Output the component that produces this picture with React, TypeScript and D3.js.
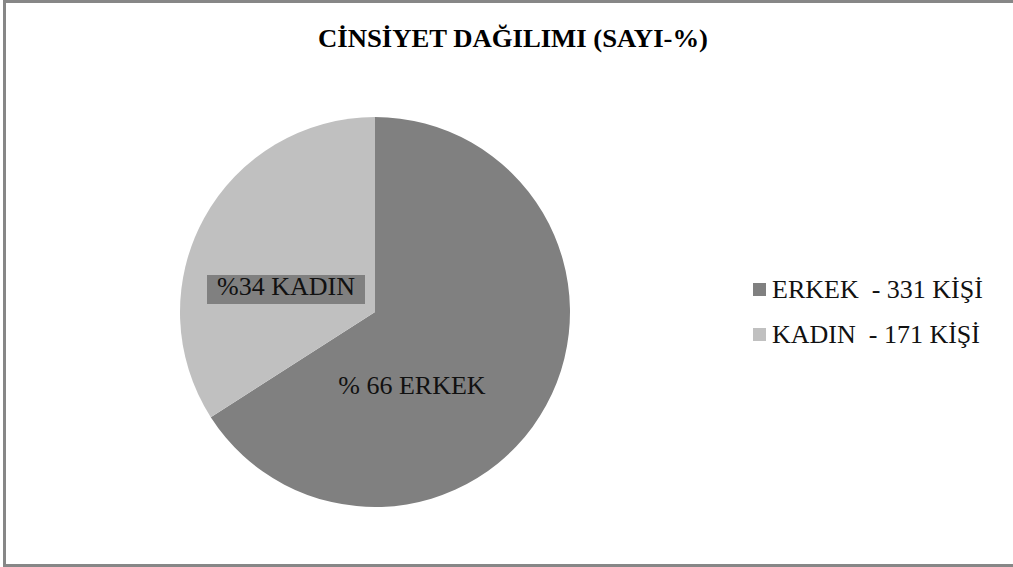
import React from "react";
import * as d3 from "d3";

const categories = ["ERKEK", "KADIN"];
const counts = [331, 171];
const colors = ["#808080", "#c0c0c0"];
const sliceLabels = ["% 66 ERKEK", "%34 KADIN"];
const legendLabels = ["ERKEK  - 331 KİŞİ", "KADIN  - 171 KİŞİ"];
const title = "CİNSİYET DAĞILIMI (SAYI-%)";

export default function App() {
  const W = 1013, H = 567;
  const cx = 375, cy = 312, r = 195;
  const pie = d3.pie<number>().sort(null).value((d) => d);
  const arcs = pie(counts);
  const arc = d3.arc<d3.PieArcDatum<number>>().innerRadius(0).outerRadius(r);
  const font = "'Liberation Serif', 'Times New Roman', serif";
  return (
    <svg width={W} height={H} style={{ position: "absolute", left: 0, top: 0, background: "#fff" }}>
      <rect x={4.5} y={1.5} width={W + 10} height={H - 3} fill="#fff" stroke="#878787" strokeWidth={3} />
      <text x={513} y={47} textAnchor="middle" fontFamily={font} fontWeight="bold" fontSize={26}
        textLength={390} lengthAdjust="spacingAndGlyphs">{title}</text>
      <g transform={`translate(${cx},${cy})`}>
        {arcs.map((a, i) => (
          <path key={categories[i]} d={arc(a) || ""} fill={colors[i]} />
        ))}
      </g>
      <rect x={207} y={275} width={158} height={29} fill="#808080" />
      <text x={286} y={295} textAnchor="middle" fontFamily={font} fontSize={26} fill="#111">{sliceLabels[1]}</text>
      <text x={412} y={394} textAnchor="middle" fontFamily={font} fontSize={26} fill="#111">{sliceLabels[0]}</text>
      {legendLabels.map((l, i) => (
        <g key={l} transform={`translate(753,${283 + i * 45})`}>
          <rect x={0} y={0} width={13} height={13} fill={colors[i]} />
          <text x={19} y={15} fontFamily={font} fontSize={26} fill="#111" style={{ whiteSpace: "pre" }}>{l}</text>
        </g>
      ))}
    </svg>
  );
}
